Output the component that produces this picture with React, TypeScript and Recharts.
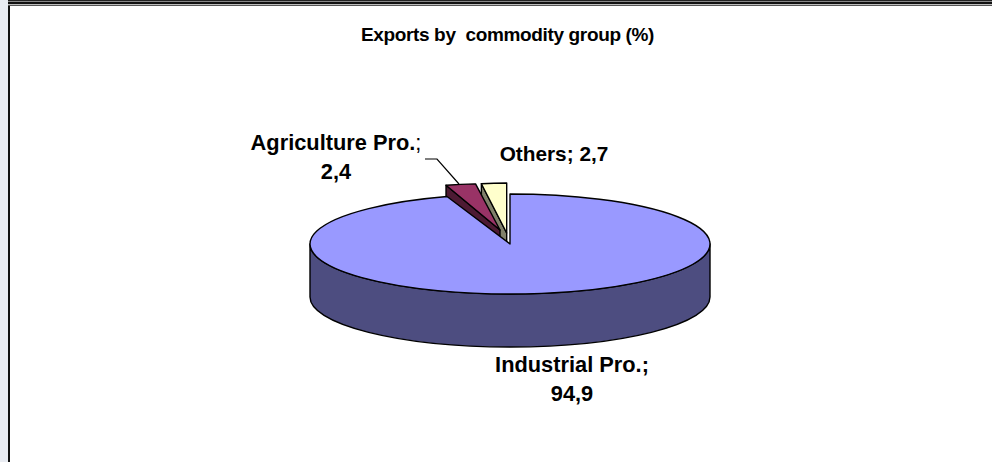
import { PieChart, Pie, Cell } from 'recharts';

const names = ['Others', 'Agriculture Pro.', 'Industrial Pro.'];
const values = [2.7, 2.4, 94.9];
const colors = ['#FFFFCC', '#993366', '#9999FF'];
const wallColors = ['#80806A', '#4D1A33', '#4D4D80'];

const data = names.map((name, i) => ({ name, value: values[i], idx: i }));

const SQUASH = 0.25;
const DEPTH = 53;
const FONT = 'Liberation Sans, Arial, sans-serif';

// how far each slice is pulled out of the pie, excel style
const explode = [
  { dx: -3.3, dy: -11, rxScale: 0.75, ryScale: 1, turn: 0 },
  { dx: -10, dy: -14, rxScale: 1, ryScale: 0.93, turn: -2.7 },
  { dx: 0, dy: 0, rxScale: 1, ryScale: 1, turn: 0 },
];

// label placement, centred text
const labelPos = [
  { x: 554, y: 161, lines: 1, size: 20.8 },
  { x: 336, y: 150, lines: 2, size: 21.8 },
  { x: 572, y: 372, lines: 2, size: 21.8 },
];

const RAD = Math.PI / 180;

function Slice3D(props: any) {
  const { cx, cy, outerRadius, startAngle, endAngle, index } = props;
  const ex = explode[index];
  const px = cx + ex.dx;
  const py = cy + ex.dy;
  const rx = outerRadius * ex.rxScale;
  const ry = outerRadius * SQUASH * ex.ryScale;
  const a0 = (startAngle + ex.turn) * RAD;
  const a1 = (endAngle + ex.turn) * RAD;
  const x0 = px + rx * Math.cos(a0);
  const y0 = py - ry * Math.sin(a0);
  const x1 = px + rx * Math.cos(a1);
  const y1 = py - ry * Math.sin(a1);
  const large = Math.abs(endAngle - startAngle) > 180 ? 1 : 0;
  const top = `M${px},${py} L${x0},${y0} A${rx},${ry} 0 ${large} 0 ${x1},${y1} Z`;
  const stroke = { stroke: '#000', strokeWidth: 1.4, strokeLinejoin: 'round' as const };

  if (index === 2) {
    const side = `M${px - rx},${py} v${DEPTH} A${rx},${ry} 0 0 0 ${px + rx},${py + DEPTH} v${-DEPTH} A${rx},${ry} 0 0 1 ${px - rx},${py} Z`;
    return (
      <g>
        <path d={side} fill={wallColors[index]} {...stroke} />
        <path d={top} fill={colors[index]} {...stroke} />
      </g>
    );
  }
  // only the far radial wall shows on the pulled out slices
  const wall = `M${px},${py} L${x1},${y1} v${DEPTH} L${px},${py + DEPTH} Z`;
  return (
    <g>
      <path d={wall} fill={wallColors[index]} {...stroke} />
      <path d={top} fill={colors[index]} {...stroke} />
    </g>
  );
}

function SliceLabel(props: any) {
  const { index, name, value } = props;
  const pos = labelPos[index];
  const valueText = String(value).replace('.', ',');
  const common = { fontFamily: FONT, fontSize: pos.size, fontWeight: 700, fill: '#000', textAnchor: 'middle' as const };
  return (
    <g>
      {index === 1 && <polyline points="425,159 437,159 459,184" fill="none" stroke="#000" strokeWidth={1.2} />}
      {pos.lines === 1 ? (
        <text x={pos.x} y={pos.y} {...common}>
          {name}; {valueText}
        </text>
      ) : (
        <text {...common}>
          <tspan x={pos.x} y={pos.y}>
            {name}
            <tspan fontWeight={index === 1 ? 400 : 700}>;</tspan>
          </tspan>
          <tspan x={pos.x} y={pos.y + 29}>
            {valueText}
          </tspan>
        </text>
      )}
    </g>
  );
}

export default function App() {
  return (
    <div style={{ position: 'absolute', left: 0, top: 0, width: 992, height: 462, background: '#fff', overflow: 'hidden' }}>
      <PieChart width={992} height={462} margin={{ top: 0, right: 0, bottom: 0, left: 0 }}>
        <rect x={0} y={0} width={8} height={462} fill="#E9ECF2" />
        <rect x={8} y={0} width={2} height={462} fill="#111" />
        <rect x={8} y={0} width={984} height={1} fill="#222" />
        <rect x={8} y={1} width={984} height={1} fill="#888" />
        <rect x={8} y={2} width={984} height={2} fill="#111" />
        <rect x={8} y={4} width={984} height={1} fill="#bbb" />
        <rect x={8} y={5} width={984} height={1} fill="#555" />
        <text x={507.5} y={41} textAnchor="middle" fontFamily={FONT} fontSize={19} letterSpacing={-0.35} fontWeight={700} fill="#000" xmlSpace="preserve">
          Exports by  commodity group (%)
        </text>
        <Pie
          data={data}
          dataKey="value"
          nameKey="name"
          cx={510}
          cy={244}
          outerRadius={200}
          startAngle={90}
          endAngle={450}
          stroke="none"
          isAnimationActive={false}
          shape={Slice3D}
          label={SliceLabel}
          labelLine={false}
        >
          {data.map((d) => (
            <Cell key={d.name} fill={colors[d.idx]} />
          ))}
        </Pie>
      </PieChart>
    </div>
  );
}
